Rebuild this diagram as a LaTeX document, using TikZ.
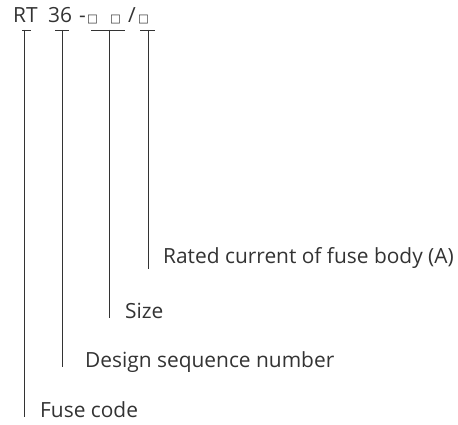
\documentclass[tikz,border=0pt]{standalone}
\usepackage{fontspec}
\setmainfont{Open Sans}
\newfontfamily\symfont{DejaVu Sans}
\definecolor{ink}{HTML}{333333}
\begin{document}
\begin{tikzpicture}[x=1pt,y=-1pt,
  lbl/.style={anchor=base west,inner sep=0pt,text=ink,font=\fontsize{20.9}{25}\selectfont},
  sq/.style={anchor=base west,inner sep=0pt,text=ink,font=\symfont\fontsize{11.5}{13}\selectfont},
  ln/.style={draw=ink,line width=0.8pt}]
\useasboundingbox (0,0) rectangle (458,425);
% top code
\node[lbl] (rt) at (13,23) {RT};
\node[lbl] (n36) at (48,23) {36};
\node[lbl] (dash) at (79,23) {-};
\node[sq] (s1) at (87,23) {□};
\node[sq] (s2) at (110,23) {□};
\node[lbl] (sl) at (128,23) {/};
\node[sq] (s3) at (138,23) {□};
% tick bars and leads
\coordinate (b1l) at (22,30); \coordinate (b1r) at (31,30);
\coordinate (b2l) at (55,30); \coordinate (b2r) at (69,30);
\coordinate (b3l) at (91,30); \coordinate (b3r) at (125,30);
\coordinate (b4l) at (140,30); \coordinate (b4r) at (155,30);
\coordinate (t1) at (24,30); \coordinate (e1) at (24,417);
\coordinate (t2) at (62,30); \coordinate (e2) at (62,367);
\coordinate (t3) at (109,30); \coordinate (e3) at (109,318);
\coordinate (t4) at (148,30); \coordinate (e4) at (148,269);
\draw[ln] (b1l) -- (b1r) (t1) -- (e1);
\draw[ln] (b2l) -- (b2r) (t2) -- (e2);
\draw[ln] (b3l) -- (b3r) (t3) -- (e3);
\draw[ln] (b4l) -- (b4r) (t4) -- (e4);
% labels
\node[lbl] (l4) at (163,263) {Rated current of fuse body (A)};
\node[lbl] (l3) at (125,318) {Size};
\node[lbl] (l2) at (85,367) {Design sequence number};
\node[lbl] (l1) at (40,417) {Fuse code};
\end{tikzpicture}
\end{document}
